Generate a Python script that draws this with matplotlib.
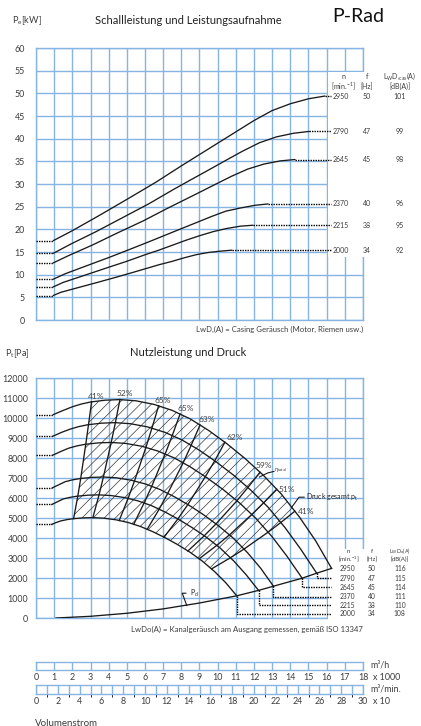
import numpy as np
import matplotlib
matplotlib.use("Agg")
import matplotlib.pyplot as plt
from matplotlib.patches import Polygon, Rectangle

# ---------------- data ----------------
speeds = [2950, 2790, 2645, 2370, 2215, 2000]
freq = [50, 47, 45, 40, 38, 34]
lw_cas = [101, 99, 98, 96, 95, 92]
lw_duct = [116, 115, 114, 111, 110, 108]

# power consumption curves  (Q in 1000 m3/h, P in kW)
pw_q_2950 = [0.95, 2.0, 3.5, 5.0, 6.6, 8.0, 9.0, 10.0, 11.0, 12.0, 13.0, 14.0, 15.0, 15.9]
pw_p_2950 = [17.5, 19.7, 23.1, 26.6, 30.4, 34.0, 36.5, 39.0, 41.5, 44.0, 46.2, 47.7, 48.8, 49.4]
pw_q_2790 = [0.95, 1.89, 3.31, 4.73, 6.24, 7.57, 8.51, 9.46, 10.40, 11.35, 12.30, 13.24, 14.19, 15.04]
pw_p_2790 = [14.7, 16.7, 19.5, 22.5, 25.7, 28.8, 30.9, 33.0, 35.1, 37.2, 39.1, 40.4, 41.2, 41.6]
pw_q_2645 = [0.95, 1.79, 3.14, 4.48, 5.92, 7.17, 8.07, 8.97, 9.86, 10.76, 11.66, 12.55, 13.45, 14.26]
pw_p_2645 = [12.6, 14.2, 16.6, 19.2, 21.9, 24.5, 26.3, 28.1, 29.9, 31.7, 33.3, 34.4, 35.1, 35.4]
pw_q_2370 = [0.95, 1.61, 2.81, 4.02, 5.30, 6.43, 7.23, 8.03, 8.84, 9.64, 10.44, 11.25, 12.05, 12.77]
pw_p_2370 = [9.0, 10.2, 12.0, 13.8, 15.8, 17.6, 18.9, 20.2, 21.5, 22.8, 24.0, 24.7, 25.3, 25.6]
pw_q_2215 = [0.95, 1.50, 2.63, 3.75, 4.96, 6.01, 6.76, 7.51, 8.26, 9.01, 9.76, 10.51, 11.26, 11.94]
pw_p_2215 = [7.3, 8.3, 9.8, 11.3, 12.9, 14.4, 15.4, 16.5, 17.6, 18.6, 19.5, 20.2, 20.7, 20.9]
pw_q_2000 = [0.95, 1.36, 2.37, 3.39, 4.47, 5.42, 6.10, 6.78, 7.46, 8.14, 8.81, 9.49, 10.17, 10.78]
pw_p_2000 = [5.4, 6.1, 7.2, 8.3, 9.5, 10.6, 11.4, 12.2, 12.9, 13.7, 14.4, 14.9, 15.2, 15.4]

# total pressure curves (Q in 1000 m3/h, p in Pa)
pr_q_2950 = [0.95, 1.5, 2.0, 2.5, 3.0, 3.8, 4.6, 5.5, 6.5, 7.5, 8.5, 9.5, 10.5, 11.5, 12.5, 13.5, 14.5, 15.4, 16.27]
pr_p_2950 = [10170, 10380, 10560, 10700, 10800, 10890, 10920, 10860, 10680, 10380, 9950, 9380, 8720, 7980, 7150, 6200, 5050, 3850, 2480]
pr_q_2790 = [0.93, 1.4, 1.89, 2.36, 2.84, 3.59, 4.35, 5.20, 6.15, 7.09, 8.04, 8.99, 9.93, 10.88, 11.82, 12.77, 13.71, 14.57, 15.45]
pr_p_2790 = [9090, 9280, 9446, 9571, 9661, 9741, 9768, 9714, 9553, 9285, 8900, 8390, 7800, 7138, 6396, 5546, 4517, 3444, 2240]
pr_q_2645 = [0.92, 1.35, 1.79, 2.24, 2.69, 3.41, 4.12, 4.93, 5.83, 6.72, 7.62, 8.52, 9.41, 10.31, 11.21, 12.10, 13.00, 13.81, 14.65]
pr_p_2645 = [8140, 8320, 8489, 8602, 8682, 8755, 8779, 8730, 8586, 8344, 7999, 7541, 7010, 6415, 5748, 4984, 4060, 3095, 1990]
pr_q_2370 = [0.90, 1.25, 1.61, 2.01, 2.41, 3.05, 3.70, 4.42, 5.22, 6.03, 6.83, 7.63, 8.44, 9.24, 10.04, 10.85, 11.65, 12.37, 13.07]
pr_p_2370 = [6510, 6660, 6816, 6907, 6971, 7030, 7049, 7010, 6894, 6700, 6423, 6055, 5629, 5151, 4615, 4002, 3260, 2485, 1590]
pr_q_2215 = [0.88, 1.2, 1.50, 1.88, 2.25, 2.85, 3.45, 4.13, 4.88, 5.63, 6.38, 7.13, 7.88, 8.63, 9.39, 10.14, 10.89, 11.56, 12.25]
pr_p_2215 = [5680, 5820, 5954, 6033, 6089, 6140, 6157, 6123, 6021, 5852, 5610, 5288, 4916, 4499, 4031, 3496, 2847, 2171, 1380]
pr_q_2000 = [0.86, 1.1, 1.36, 1.70, 2.03, 2.58, 3.12, 3.73, 4.41, 5.09, 5.76, 6.44, 7.12, 7.80, 8.48, 9.15, 9.83, 10.44, 11.05]
pr_p_2000 = [4680, 4770, 4853, 4918, 4964, 5005, 5019, 4991, 4909, 4771, 4573, 4311, 4008, 3668, 3286, 2850, 2321, 1769, 1110]

# dynamic pressure curve
pd_q = [1.1, 3.0, 5.0, 7.0, 9.0, 11.05, 12.25, 13.07, 14.65, 15.45, 16.27]
pd_p = [0, 85, 236, 455, 750, 1110, 1380, 1590, 1990, 2240, 2480]

# table row levels in the pressure chart (Pa)
pr_rows = [2480, 1980, 1530, 1065, 650, 200]

# iso-efficiency lines (points on each speed curve, top to bottom)
eff_names = ["41%", "52%", "65%", "65%", "63%", "62%", "59%", "51%", "41%"]
eff_q = [
    [3.06, 2.89, 2.74, 2.46, 2.30, 2.07],
    [4.62, 4.37, 4.14, 3.71, 3.47, 3.13],
    [6.75, 6.38, 6.05, 5.42, 5.07, 4.58],
    [7.93, 7.50, 7.11, 6.37, 5.95, 5.38],
    [9.03, 8.54, 8.10, 7.25, 6.78, 6.12],
    [10.4, 9.84, 9.32, 8.36, 7.81, 7.05],
    [12.33, 11.66, 11.06, 9.91, 9.26, 8.36],
    [13.25, 12.53, 11.88, 10.65, 9.95, 8.98],
    [14.25, 13.48, 12.78, 11.45, 10.70, 9.66],
]
eff_p = [
    [10805, 9665, 8686, 6975, 6092, 4966],
    [10920, 9768, 8779, 7049, 6157, 5019],
    [10610, 9491, 8529, 6849, 5982, 4876],
    [10200, 9124, 8200, 6584, 5751, 4688],
    [9650, 8632, 7758, 6229, 5441, 4435],
    [8790, 7863, 7066, 5674, 4956, 4040],
    [7290, 6521, 5860, 4706, 4110, 3350],
    [6440, 5761, 5177, 4157, 3631, 2960],
    [5340, 4777, 4293, 3447, 3011, 2454],
]
eff_label_q = [3.29, 4.9, 6.97, 8.23, 9.41, 10.93, 12.54, 13.82, 14.85]
eff_label_p = [11080, 11220, 10880, 10470, 9920, 9020, 7640, 6430, 5310]

vol_h_ticks = list(range(0, 19))
vol_min_ticks = list(range(0, 31, 2))

# ---------------- style ----------------
W, H = 421, 726
plt.rcParams['font.family'] = ['Lato', 'DejaVu Sans']
plt.rcParams['mathtext.fontset'] = 'custom'
plt.rcParams['mathtext.rm'] = 'Lato'
plt.rcParams['mathtext.it'] = 'Lato:italic'
plt.rcParams['hatch.linewidth'] = 0.5
GRID = '#86b5e3'
TXT = '#3c3c3c'
CLW = 0.95
DOT = (0, (1, 0.8))


def frect(x0, y0, x1, y1):
    return [x0 / W, 1 - y1 / H, (x1 - x0) / W, (y1 - y0) / H]


def fxy(x, y):
    return (x / W, 1 - y / H)


fig = plt.figure(figsize=(W / 100, H / 100), dpi=100)


def style_grid(ax):
    ax.tick_params(length=0, labelcolor=TXT)
    ax.grid(True, which='both', color=GRID, lw=1.0)
    ax.set_axisbelow(True)
    for s in ax.spines.values():
        s.set_color(GRID)
        s.set_linewidth(1.0)


# ---------------- top chart ----------------
ax1 = fig.add_axes(frect(36, 48, 363, 320))
ax1.set_xlim(0, 18)
ax1.set_ylim(0, 60)
ax1.set_xticks(np.arange(0, 19))
ax1.set_yticks(np.arange(0, 61, 5))
style_grid(ax1)
ax1.tick_params(labelbottom=False, labelsize=6.4, pad=7.9)
ax1.add_patch(Rectangle((16.08, 13.9), 3.5, 40.8, facecolor='white', edgecolor='none',
                        zorder=2.6, clip_on=False))

pw_q = [pw_q_2950, pw_q_2790, pw_q_2645, pw_q_2370, pw_q_2215, pw_q_2000]
pw_p = [pw_p_2950, pw_p_2790, pw_p_2645, pw_p_2370, pw_p_2215, pw_p_2000]
for q, p in zip(pw_q, pw_p):
    ax1.plot([0, q[0]], [p[0], p[0]], color='black', lw=1.0, ls=DOT, zorder=3, clip_on=False)
    ax1.plot(q, p, color='#1a1a1a', lw=CLW, zorder=3, solid_capstyle='round')
    ax1.plot([q[-1], 16.22], [p[-1], p[-1]], color='black', lw=1.0, ls=DOT, zorder=3, clip_on=False)

tk = dict(fontsize=5, color=TXT, zorder=4, clip_on=False)
for i, p in enumerate(pw_p):
    ax1.text(16.35, p[-1], str(speeds[i]), ha='left', va='center', **tk)
    ax1.text(18.22, p[-1], str(freq[i]), ha='center', va='center', **tk)
    ax1.text(20.03, p[-1], str(lw_cas[i]), ha='center', va='center', **tk)
ax1.text(16.9, 53.8, 'n', ha='center', va='center', **tk)
ax1.text(16.9, 51.6, '[min.$^{-1}$]', ha='center', va='center', **tk)
ax1.text(18.22, 53.8, 'f', ha='center', va='center', **tk)
ax1.text(18.22, 51.6, '[Hz]', ha='center', va='center', **tk)
ax1.text(20.03, 53.8, r'L$_{\mathrm{W}}$D,$_{\mathrm{cas}}$(A)', ha='center', va='center', **tk)
ax1.text(20.03, 51.6, '[dB(A)]', ha='center', va='center', **tk)

fig.text(*fxy(12, 21), r'P$_{\mathrm{e}}$[kW]', fontsize=6.6, color=TXT, ha='left', va='center')
fig.text(*fxy(188, 20), 'Schallleistung und Leistungsaufnahme', fontsize=8, color='#222222',
         ha='center', va='center')
fig.text(*fxy(358, 17), 'P-Rad', fontsize=14, color='#111111', ha='center', va='center')
fig.text(*fxy(363, 329), 'LwD,(A) = Casing Geräusch (Motor, Riemen usw.)', fontsize=5.6,
         color=TXT, ha='right', va='center')

# ---------------- bottom chart ----------------
ax2 = fig.add_axes(frect(36, 378, 363, 618))
ax2.set_xlim(0, 18)
ax2.set_ylim(0, 12000)
ax2.set_xticks(np.arange(0, 19))
ax2.set_yticks(np.arange(0, 12001, 1000))
style_grid(ax2)
ax2.tick_params(labelbottom=False, labelsize=6.4, pad=5.6)
ax2.add_patch(Rectangle((16.08, -300), 3.5, 3750, facecolor='white', edgecolor='none',
                        zorder=2.6, clip_on=False))

pr_q = [pr_q_2950, pr_q_2790, pr_q_2645, pr_q_2370, pr_q_2215, pr_q_2000]
pr_p = [pr_p_2950, pr_p_2790, pr_p_2645, pr_p_2370, pr_p_2215, pr_p_2000]

# hatched working area
top_q = [eff_q[0][0]] + [q for q in pr_q_2950 if eff_q[0][0] < q < eff_q[-1][0]] + [eff_q[-1][0]]
top_p = [eff_p[0][0]] + [p for q, p in zip(pr_q_2950, pr_p_2950) if eff_q[0][0] < q < eff_q[-1][0]] + [eff_p[-1][0]]
bot = [(q, p) for q, p in zip(pr_q_2000, pr_p_2000) if eff_q[0][-1] < q < eff_q[-1][-1]]
verts = list(zip(top_q, top_p)) + list(zip(eff_q[-1], eff_p[-1]))[1:] + bot[::-1] + \
    list(zip(eff_q[0][::-1], eff_p[0][::-1]))
ax2.add_patch(Polygon(verts, closed=True, fill=False, hatch='///', edgecolor='#3a3a3a',
                      lw=0, zorder=2))

for q, p in zip(pr_q, pr_p):
    ax2.plot([0, q[0]], [p[0], p[0]], color='black', lw=1.0, ls=DOT, zorder=3, clip_on=False)
    ax2.plot(q, p, color='#1a1a1a', lw=CLW, zorder=3)
for q, p in zip(eff_q, eff_p):
    ax2.plot(q, p, color='#1a1a1a', lw=CLW, zorder=3)
ax2.plot(pd_q, pd_p, color='#1a1a1a', lw=CLW, zorder=3)

# dotted connections to table rows
for i, (q, p) in enumerate(zip(pr_q, pr_p)):
    if i == 0:
        continue
    ax2.plot([q[-1], q[-1], 16.24], [p[-1], pr_rows[i], pr_rows[i]], color='black', lw=1.0,
             ls=DOT, zorder=3, clip_on=False)

for name, lq, lp in zip(eff_names, eff_label_q, eff_label_p):
    ax2.text(lq, lp, name, fontsize=6, color='#444444', ha='center', va='center', zorder=4)

ax2.text(13.44, 7390, r'$\eta_{\mathrm{total}}$', fontsize=4.2, color='#444444', ha='center',
         va='center', zorder=4)
ax2.plot([13.1, 12.75, 12.3], [7330, 7250, 7050], color='#1a1a1a', lw=0.8, zorder=3)
ax2.text(14.84, 6040, r'Druck gesamt p$_{\mathrm{t}}$', fontsize=5, color='#222222',
         ha='left', va='center', zorder=4)
ax2.plot([14.07, 14.48, 14.76], [5530, 6040, 6040], color='#1a1a1a', lw=0.8, zorder=3)
ax2.text(8.47, 1250, r'P$_{\mathrm{d}}$', fontsize=5, color='#222222', ha='left', va='center',
         zorder=4)
ax2.plot([8.3, 8.05, 8.25], [620, 1240, 1240], color='#1a1a1a', lw=0.8, zorder=3)

tk2 = dict(fontsize=4.9, color=TXT, zorder=4, clip_on=False)
hk = dict(fontsize=4.4, color=TXT, zorder=4, clip_on=False)
for i in range(6):
    ax2.text(16.73, pr_rows[i], str(speeds[i]), ha='left', va='center', **tk2)
    ax2.text(18.48, pr_rows[i], str(freq[i]), ha='center', va='center', **tk2)
    ax2.text(20.03, pr_rows[i], str(lw_duct[i]), ha='center', va='center', **tk2)
ax2.text(17.2, 3330, 'n', ha='center', va='center', **hk)
ax2.text(17.2, 2920, '[min.$^{-1}$]', ha='center', va='center', **hk)
ax2.text(18.48, 3330, 'f', ha='center', va='center', **hk)
ax2.text(18.48, 2920, '[Hz]', ha='center', va='center', **hk)
ax2.text(20.03, 3330, r'L$_{\mathrm{W}}$D$_{\mathrm{o}}$(A)', ha='center', va='center',
         fontsize=4.0, color=TXT, clip_on=False)
ax2.text(20.03, 2920, '[dB(A)]', ha='center', va='center', **hk)

fig.text(*fxy(5, 354), r'P$_{\mathrm{t}}$[Pa]', fontsize=6.6, color=TXT, ha='left', va='center')
fig.text(*fxy(188, 353), 'Nutzleistung und Druck', fontsize=8, color='#222222',
         ha='center', va='center')
fig.text(*fxy(363, 629), 'LwDo(A) = Kanalgeräusch am Ausgang gemessen, gemäß ISO 13347',
         fontsize=5.6, color=TXT, ha='right', va='center')

# ---------------- volume scales ----------------
ax3 = fig.add_axes(frect(36, 662, 363, 670))
ax3.set_xlim(0, 18)
ax3.set_ylim(0, 1)
ax3.set_xticks(vol_h_ticks)
ax3.set_xticklabels([str(v) for v in vol_h_ticks])
ax3.set_yticks([])
style_grid(ax3)
ax3.tick_params(labelsize=6.4, pad=2.2)

ax4 = fig.add_axes(frect(36, 684.5, 363, 693.5))
ax4.set_xlim(0, 30)
ax4.set_ylim(0, 1)
ax4.set_xticks(vol_min_ticks)
ax4.set_xticklabels([str(v) for v in vol_min_ticks])
ax4.set_xticks(np.arange(1, 30, 2), minor=True)
ax4.set_yticks([])
style_grid(ax4)
ax4.tick_params(which='both', labelsize=6.4, pad=2.2)

st = dict(fontsize=6.4, color=TXT, ha='left', va='center')
fig.text(*fxy(370, 665.5), 'm³/h', **st)
fig.text(*fxy(373, 677.5), 'x 1000', **st)
fig.text(*fxy(370, 689), 'm³/min.', **st)
fig.text(*fxy(373, 701), 'x 10', **st)
fig.text(*fxy(35, 723), 'Volumenstrom', fontsize=7, color=TXT, ha='left', va='center')

fig.savefig('out.png', dpi=100)
